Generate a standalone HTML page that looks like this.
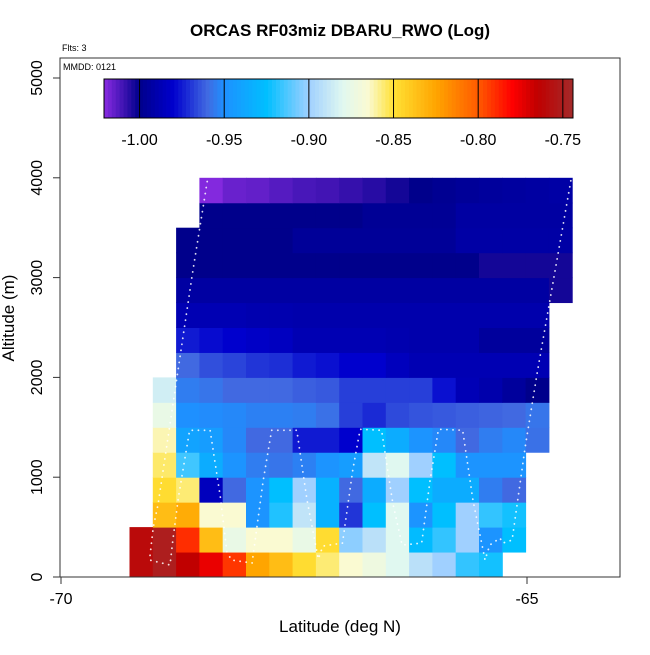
<!DOCTYPE html>
<html><head><meta charset="utf-8"><style>
body{margin:0;background:#fff}
svg text{font-family:"Liberation Sans",sans-serif}
</style></head><body>
<svg id="chart" width="650" height="650" xmlns="http://www.w3.org/2000/svg">
<rect width="650" height="650" fill="#fff"/>
<text x="340" y="36" text-anchor="middle" font-size="17" font-weight="bold">ORCAS RF03miz DBARU_RWO (Log)</text>
<text x="62" y="51" font-size="9">Flts: 3</text>
<g id="cells"></g>
<g id="track"></g>
<rect x="60" y="58" width="560" height="519" fill="none" stroke="#333" stroke-width="1"/>
<text x="63" y="70" font-size="9">MMDD: 0121</text>
<g id="cbar"></g>
<g id="axes"></g>
<text x="340" y="632" text-anchor="middle" font-size="17">Latitude (deg N)</text>
<text x="0" y="0" transform="translate(14,318) rotate(-90)" text-anchor="middle" font-size="17">Altitude (m)</text>
</svg>
<script>
const colLats=[-69.14,-68.89,-68.64,-68.39,-68.14,-67.89,-67.64,-67.39,-67.14,-66.89,-66.64,-66.39,-66.14,-65.89,-65.64,-65.39,-65.14,-64.89,-64.64];
const rowAlts=[125,375,625,875,1125,1375,1625,1875,2125,2375,2625,2875,3125,3375,3625,3875];
const N=null;
const r0=[-0.76,-0.75,-0.765,-0.775,-0.792,-0.825,-0.835,-0.848,-0.856,-0.865,-0.872,-0.88,-0.892,-0.9,-0.917,-0.922,N,N,N];
const r1=[-0.76,-0.75,-0.79,-0.835,-0.875,-0.865,-0.865,-0.875,-0.848,-0.903,-0.892,-0.88,-0.927,-0.917,-0.9,-0.948,-0.925,N,N];
const r2=[N,-0.835,-0.828,-0.865,-0.865,-0.948,-0.92,-0.89,-0.932,-0.97,-0.925,-0.88,-0.948,-0.925,-0.9,-0.917,-0.922,N,N];
const r3=[N,-0.848,-0.856,-0.985,-0.96,-0.948,-0.925,-0.9,-0.932,-0.96,-0.935,-0.9,-0.925,-0.935,-0.935,-0.955,-0.96,N,N];
const r4=[N,-0.855,-0.915,-0.935,-0.948,-0.955,-0.957,-0.954,-0.948,-0.943,-0.89,-0.88,-0.9,-0.925,-0.948,-0.948,-0.948,N,N];
const r5=[N,-0.862,-0.94,-0.943,-0.952,-0.96,-0.96,-0.975,-0.975,-0.98,-0.925,-0.935,-0.948,-0.952,-0.96,-0.955,-0.952,-0.958,N];
const r6=[N,-0.875,-0.95,-0.951,-0.952,-0.954,-0.954,-0.955,-0.958,-0.968,-0.972,-0.966,-0.964,-0.963,-0.962,-0.961,-0.96,-0.957,N];
const r7=[N,-0.885,-0.955,-0.957,-0.96,-0.96,-0.96,-0.962,-0.963,-0.968,-0.968,-0.968,-0.968,-0.977,-0.987,-0.99,-0.995,-1.0,N];
const r8=[N,N,-0.96,-0.965,-0.967,-0.97,-0.971,-0.975,-0.977,-0.98,-0.98,-0.985,-0.988,-0.988,-0.988,-0.988,-0.988,-0.988,N];
const r9=[N,N,-0.975,-0.978,-0.98,-0.982,-0.984,-0.988,-0.988,-0.988,-0.988,-0.989,-0.99,-0.99,-0.99,-0.995,-0.995,-0.995,N];
const r10=[N,N,-0.988,-0.988,-0.988,-0.989,-0.989,-0.99,-0.99,-0.99,-0.99,-0.99,-0.99,-0.99,-0.99,-0.99,-0.99,-0.99,N];
const r11=[N,N,-0.993,-0.993,-0.993,-0.993,-0.993,-0.993,-0.993,-0.993,-0.993,-0.993,-0.993,-0.993,-0.993,-0.993,-0.993,-0.993,-1.003];
const r12=[N,N,-1.0,-1.0,-1.0,-1.0,-1.0,-1.0,-1.0,-1.0,-1.0,-1.0,-1.0,-1.0,-1.0,-1.003,-1.003,-1.003,-1.003];
const r13=[N,N,-1.0,-1.0,-1.0,-1.0,-1.0,-0.996,-0.996,-0.996,-0.996,-0.996,-0.996,-0.996,-0.992,-0.992,-0.992,-0.992,-0.992];
const r14=[N,N,N,-1.0,-1.0,-1.0,-1.0,-1.0,-1.0,-1.0,-0.997,-0.997,-0.997,-0.997,-0.993,-0.993,-0.993,-0.993,-0.993];
const r15=[N,N,N,-1.02,-1.016,-1.015,-1.013,-1.011,-1.01,-1.008,-1.006,-1.003,-1.0,-0.998,-0.996,-0.995,-0.994,-0.993,-0.992];
const grid=[r0,r1,r2,r3,r4,r5,r6,r7,r8,r9,r10,r11,r12,r13,r14,r15];
const trackLat=[-64.53,-64.89,-65.02,-65.16,-65.26,-65.29,-65.40,-65.45,-65.58,-65.69,-65.95,-66.04,-66.13,-66.34,-66.44,-66.56,-66.79,-66.87,-66.98,-67.19,-67.24,-67.36,-67.47,-67.74,-67.83,-67.95,-68.17,-68.22,-68.29,-68.40,-68.62,-68.74,-68.80,-68.83,-69.05,-69.01,-68.96,-68.59,-68.43];
const trackAlt=[3970,2050,1300,370,340,390,320,170,770,1470,1480,970,340,320,740,1470,1480,1070,340,310,180,770,1470,1470,970,140,170,250,800,1470,1470,800,370,120,170,500,720,3040,3970];
const cbTicks=[-1.00,-0.95,-0.90,-0.85,-0.80,-0.75];
const cbMin=-1.021, cbMax=-0.744;
const xTicks=[-70,-65];
const yTicks=[0,1000,2000,3000,4000,5000];

const NS='http://www.w3.org/2000/svg';
const xpx=lat=>61+(lat+70)*93.2;
const ypx=alt=>577-alt*0.0998;
const stops=[[-1.021,[138,43,226]],[-1.0,[0,0,139]],[-0.98,[0,0,205]],[-0.96,[65,105,225]],[-0.95,[30,144,255]],[-0.925,[0,191,255]],[-0.90,[160,208,255]],[-0.88,[224,248,240]],[-0.865,[250,250,210]],[-0.85,[255,225,53]],[-0.825,[255,165,0]],[-0.80,[255,90,0]],[-0.78,[255,0,0]],[-0.765,[192,0,0]],[-0.744,[165,42,42]]];
function cmap(v){
  if(v<=stops[0][0]) return 'rgb('+stops[0][1]+')';
  for(let i=1;i<stops.length;i++){
    if(v<=stops[i][0]){const a=stops[i-1],b=stops[i];const t=(v-a[0])/(b[0]-a[0]);
      return 'rgb('+a[1].map((c,j)=>Math.round(c+(b[1][j]-c)*t)).join(',')+')';}
  }
  return 'rgb('+stops[stops.length-1][1]+')';
}
function mk(tag,attrs,parent){const e=document.createElementNS(NS,tag);for(const k in attrs)e.setAttribute(k,attrs[k]);parent.appendChild(e);return e;}

const cells=document.getElementById('cells');
grid.forEach((row,ri)=>row.forEach((v,ci)=>{
  if(v===null)return;
  const x0=xpx(colLats[ci]-0.125), x1=xpx(colLats[ci]+0.125);
  const y0=ypx(rowAlts[ri]+125), y1=ypx(rowAlts[ri]-125);
  const r=mk('rect',{x:x0,y:y0,width:x1-x0+0.5,height:y1-y0+0.5,fill:cmap(v)},cells);
  
  
}));

const tg=document.getElementById('track');
const pl=mk('polyline',{points:trackLat.map((l,i)=>xpx(l)+','+ypx(trackAlt[i])).join(' '),fill:'none',stroke:'#fff','stroke-width':1.8,'stroke-dasharray':'0.1 6','stroke-linecap':'round',opacity:0.85},tg);



// colorbar
const cb=document.getElementById('cbar');
const cbx0=104,cbx1=573,cby0=79,cby1=118;
const cbx=v=>cbx0+(v-cbMin)/(cbMax-cbMin)*(cbx1-cbx0);
for(let i=0;i<120;i++){
  const v=cbMin+(cbMax-cbMin)*(i+0.5)/120;
  const w=(cbx1-cbx0)/120;
  const r=mk('rect',{x:cbx0+i*w,y:cby0,width:w+0.4,height:cby1-cby0,fill:cmap(v)},cb);
  
  
}
const cbf=mk('rect',{x:cbx0,y:cby0,width:cbx1-cbx0,height:cby1-cby0,fill:'none',stroke:'#000','stroke-width':1},cb);


cbTicks.forEach(t=>{
  const l=mk('line',{x1:cbx(t),x2:cbx(t),y1:cby0,y2:cby1,stroke:'#000','stroke-width':1},cb);
  
  
  const tx=mk('text',{x:cbx(t),y:145,'text-anchor':'middle','font-size':16},cb);
  tx.textContent=t.toFixed(2);
  
  
});

// axes
const ax=document.getElementById('axes');
xTicks.forEach(t=>{
  const l=mk('line',{x1:xpx(t),x2:xpx(t),y1:577,y2:584,stroke:'#333'},ax);
  
  
  const tx=mk('text',{x:xpx(t),y:604,'text-anchor':'middle','font-size':16},ax);
  tx.textContent=t;
  
  
});
yTicks.forEach(t=>{
  const y=ypx(t);
  const l=mk('line',{x1:53,x2:60,y1:y,y2:y,stroke:'#333'},ax);
  
  
  const tx=mk('text',{x:0,y:0,transform:'translate(42,'+y+') rotate(-90)','text-anchor':'middle','font-size':16},ax);
  tx.textContent=t;
  
  
});
</script>
</body></html>
